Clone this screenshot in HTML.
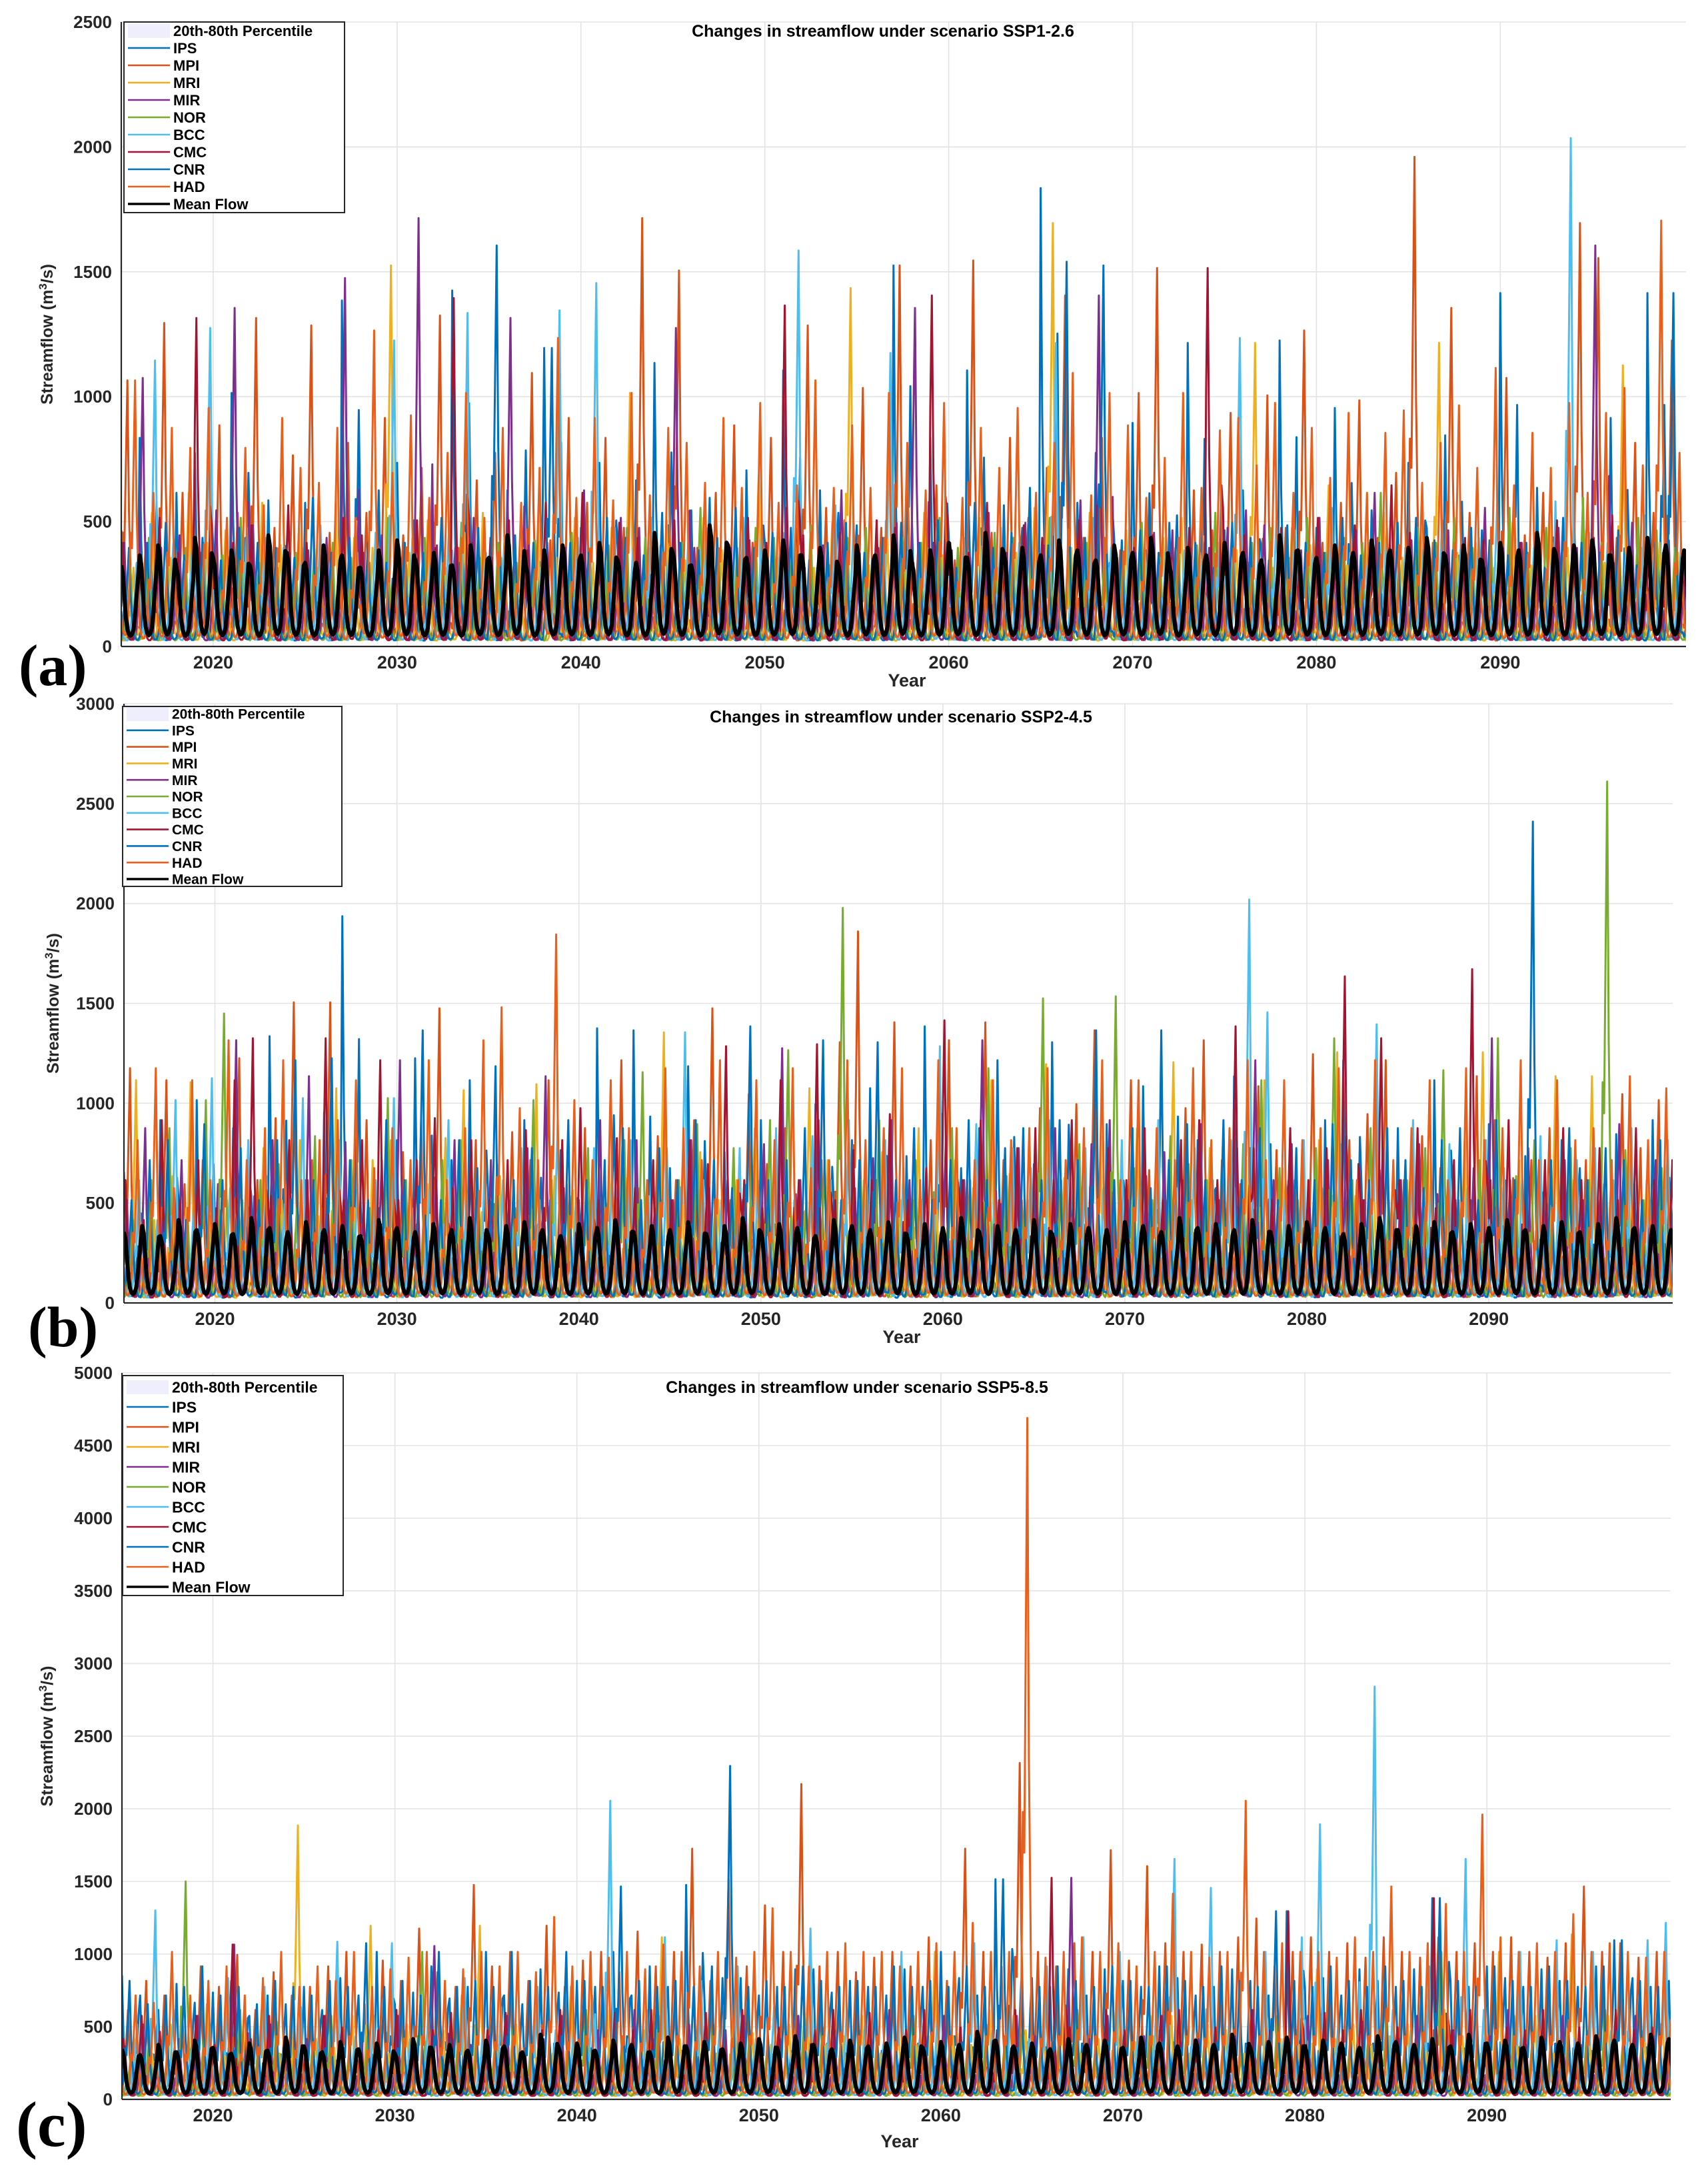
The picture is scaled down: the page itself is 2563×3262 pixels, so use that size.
<!DOCTYPE html>
<html><head><meta charset="utf-8"><style>
html,body{margin:0;padding:0;background:#fff;}
svg{display:block;}
text{font-family:"Liberation Sans",Arial,sans-serif;}
</style></head><body>
<svg id="fig" xmlns="http://www.w3.org/2000/svg" width="2563" height="3262" viewBox="0 0 2563 3262">
<rect x="0" y="0" width="2563" height="3262" fill="#fff"/>
</svg>
<script>
// ---------- shared data ----------
const modelNames = ["IPS","MPI","MRI","MIR","NOR","BCC","CMC","CNR","HAD"];
const modelColors = ["#0072BD","#D95319","#EDB120","#7E2F8E","#77AC30","#4DBEEE","#A2142F","#0072BD","#E8601C"];
const peakMonth = [0,4,8,2,6,10,1,5,9];
const seasonProfile = [1,0.5,0.28,0.12,0.05,0.03,0.03,0.06,0.15,0.42,0.36,0.68];
const meanProfile = [1,0.9,0.6,0.3,0.15,0.08,0.06,0.08,0.15,0.35,0.6,0.85];
const startYear = 2015;
const xTickYears = [2020,2030,2040,2050,2060,2070,2080,2090];

// ---------- panel (a) SSP1-2.6 annual peak flows ----------
const ipsA=[450,820,340,600,760,380,1000,420,570,300,560,330,1370,440,610,720,290,480,1410,500,340,610,770,1180,330,460,720,390,650,1120,380,530,580,300,690,400,1090,340,610,520,470,330,1510,500,820,430,1090,340,550,460,1820,370,560,760,420,880,360,480,1200,370,450,610,390,1210,320,460,940,360,530,390,720,460,830,300,450,1400,350,620,360,570,430,900,380,1400,500,360];
const mpiA=[1050,400,1280,600,360,870,520,1300,460,750,1270,440,800,520,900,430,700,1310,380,650,760,300,1080,410,900,560,820,460,1700,390,1490,380,600,870,400,820,310,1270,540,490,1020,460,1510,370,630,330,1530,440,820,500,700,1390,420,820,370,1000,1500,380,610,450,920,320,990,460,1250,400,560,970,420,680,1945,400,1340,520,300,1060,430,600,360,1680,1540,420,800,520,1210,400];
const mriA=[300,520,340,600,400,450,320,560,390,460,300,560,420,380,1510,360,490,300,440,520,340,380,470,340,500,320,460,1000,380,490,330,500,370,350,670,340,400,300,480,1420,310,430,290,520,350,410,500,300,360,540,1680,380,520,300,450,380,420,500,360,400,370,1200,300,460,390,630,310,400,520,340,430,1200,360,400,300,480,310,520,380,450,320,1110,380,400,360,340];
const mirA=[400,1060,380,430,320,530,1340,470,300,360,370,420,1460,360,430,340,1700,390,380,500,340,1300,390,400,380,610,360,500,460,320,1260,380,370,380,410,330,540,300,390,610,360,380,480,1340,400,370,340,520,360,480,390,330,570,1390,340,360,440,450,380,380,460,530,470,300,370,500,320,450,600,370,410,310,450,340,540,380,400,300,460,380,1590,320,480,300,410,370];
const norA=[300,420,310,380,400,350,500,320,300,360,380,400,340,320,500,310,420,340,480,340,400,320,410,300,440,360,390,460,420,320,400,540,360,380,460,420,390,470,310,420,460,340,420,400,500,380,310,440,420,360,500,360,400,420,350,480,340,410,390,520,380,400,460,340,500,360,420,400,600,340,460,400,500,380,420,540,360,460,420,580,400,360,500,450,380,400];
const bccA=[320,1130,400,360,1260,300,460,420,380,380,470,300,360,440,1210,420,340,480,1320,360,400,380,300,1330,420,1440,460,380,500,370,400,460,360,500,460,400,1570,300,550,480,340,1160,420,380,510,420,380,460,400,360,1200,340,500,380,460,350,420,370,400,620,1220,340,510,450,400,540,360,400,460,380,410,490,370,420,560,300,380,400,2020,440,400,360,510,360,400,380];
const cmcA=[400,340,500,360,1300,320,400,470,320,550,400,380,500,430,340,360,490,380,1380,400,420,490,370,560,340,600,360,480,420,380,490,300,400,370,500,400,1350,430,300,440,350,490,460,320,1390,400,360,560,360,470,420,380,490,550,320,380,430,340,460,1500,400,430,310,460,340,500,380,470,300,630,440,370,350,420,410,380,400,340,490,360,420,510,360,400,380,340];
const cnrA=[380,400,480,350,420,330,460,400,380,340,580,360,420,400,320,400,360,500,320,460,1590,430,400,1180,400,360,500,420,350,520,400,370,420,540,380,440,460,330,400,480,360,420,480,400,490,300,560,380,440,620,390,1525,420,1510,410,450,360,510,400,300,480,420,330,470,400,360,500,350,400,480,500,410,370,460,410,350,400,300,500,400,360,450,310,400,1400,400];
const hadA=[1050,600,860,780,940,500,780,550,900,700,640,860,500,1250,680,910,580,760,1000,500,860,560,700,1220,580,900,570,1000,590,860,800,640,900,620,960,560,630,1050,620,870,620,1000,800,610,960,580,860,700,940,600,800,1080,590,1000,870,580,740,1000,620,850,900,710,960,600,860,660,920,600,840,930,640,800,950,700,1100,630,840,700,960,600,920,1020,710,1690,760,810];
const meanA=[300,340,380,290,410,330,360,300,420,350,310,380,340,290,360,400,320,350,300,380,330,420,300,360,380,340,390,320,310,430,350,300,460,380,330,360,400,340,370,300,380,340,420,310,360,390,330,430,350,370,340,400,360,320,380,350,410,300,370,340,390,350,320,420,360,330,380,350,400,360,370,410,340,380,320,390,360,430,350,380,400,340,370,410,380,360];

// ---------- panel (b) SSP2-4.5 ----------
const ipsB=[640,420,900,500,1000,380,860,520,1320,400,600,940,1921,500,460,800,1210,380,700,1100,560,480,900,420,750,500,1360,600,1350,380,660,1170,500,740,420,900,600,460,980,500,800,1060,380,720,1370,500,660,860,1200,480,680,1290,600,460,880,520,1070,1350,400,800,560,1120,500,780,600,440,900,1200,580,650,860,460,1100,600,500,880,400,720,540,800,660,500,830,580,900,460];
const mpiB=[1160,500,1100,580,700,450,1210,600,910,1490,700,1490,480,900,560,740,900,1460,500,800,480,840,700,1100,580,860,500,1200,560,820,600,900,1460,500,1030,680,860,440,700,1290,1845,600,1390,500,800,1300,600,1390,700,500,960,610,980,1350,560,1100,650,500,960,1300,700,580,1070,750,600,1230,560,800,930,1200,600,820,660,500,1120,900,610,700,860,520,700,580,1030,760,1000,600];
const mriB=[1100,400,620,1090,460,500,380,760,500,800,420,1060,460,700,800,480,580,810,1050,440,620,500,1080,620,550,460,700,610,480,1340,580,740,500,600,860,500,420,1060,700,480,600,740,500,860,480,700,560,1100,630,500,1180,610,460,780,500,860,600,1190,500,760,560,700,1100,660,500,800,1240,520,730,480,600,710,520,800,1240,560,700,460,1120,600,1120,500,760,600,680,500];
const mirB=[500,860,460,700,380,580,1300,520,800,460,1120,500,790,480,700,1200,480,600,800,440,700,500,760,1120,560,480,900,500,800,460,500,800,560,600,460,780,1260,600,900,420,560,710,900,600,440,820,600,1300,480,760,600,860,460,780,900,500,620,740,600,880,500,760,1200,600,780,460,700,820,500,760,600,780,530,500,660,1310,600,760,480,700,500,600,880,460,700,520];
const norB=[400,600,860,440,1000,1434,500,600,680,460,820,500,700,460,1010,600,480,700,800,500,680,460,1000,600,520,760,480,800,1140,500,600,880,500,760,680,900,1250,500,700,1963,600,900,460,700,540,860,600,1160,620,500,1510,600,780,460,1520,660,500,820,680,600,460,780,1100,660,500,760,1310,600,860,500,600,760,1150,500,700,1310,620,800,460,760,600,2596,750,500,660,600];
const bccB=[600,400,1000,460,1110,560,800,620,480,1010,460,800,580,600,1010,460,680,900,540,700,600,760,500,900,480,760,640,800,520,760,1340,600,500,760,600,860,500,820,600,900,560,800,660,500,1270,600,880,500,760,660,900,600,760,560,800,600,900,560,760,600,800,2005,1440,600,800,560,780,600,1380,500,900,600,780,560,800,660,600,820,500,700,760,600,860,500,800,580];
const cmcB=[600,400,900,500,700,460,1100,1310,520,800,600,1310,500,800,1200,500,700,910,560,800,500,700,850,460,800,960,500,810,560,700,500,800,680,1270,600,460,1100,600,1280,500,750,600,930,500,660,1400,600,900,500,760,860,600,900,500,760,600,860,500,800,900,600,1370,760,500,860,600,760,1620,500,1310,600,860,460,700,1656,600,900,560,700,860,600,760,500,860,600,700];
const cnrB=[500,700,800,400,880,600,760,500,800,1200,600,1210,700,500,900,600,1350,500,800,660,1170,600,760,500,900,600,700,860,500,760,600,900,700,560,1370,600,700,860,1300,500,700,1290,600,860,500,700,900,600,760,860,600,900,700,1350,600,860,560,700,880,600,900,600,860,500,760,600,880,700,600,860,700,560,800,860,500,900,600,2395,700,860,600,760,700,500,800,600];
const hadB=[800,1160,560,1100,600,1300,700,860,1200,600,800,900,1100,660,860,700,1200,600,860,1300,1465,960,700,1830,1000,700,1100,860,600,1160,860,700,1200,600,1100,800,1160,660,700,1200,800,860,1160,600,1200,860,700,1100,800,860,1160,700,860,1200,600,1100,860,700,1160,800,860,1200,700,1100,800,860,1160,600,1200,700,860,1100,600,1160,800,860,1200,700,1100,800,860,700,1120,800,1060,700];
const meanB=[330,360,310,390,340,370,320,400,350,330,380,340,360,310,390,350,330,370,340,400,320,360,380,340,310,370,350,390,330,360,340,380,320,360,400,330,370,350,310,390,360,340,380,320,370,350,400,330,360,340,390,320,370,350,340,380,360,330,400,350,370,340,390,330,360,380,350,320,370,400,340,360,380,330,370,350,390,340,360,380,330,370,400,350,360,340];

// ---------- panel (c) SSP5-8.5 ----------
const ipsC=[840,700,600,780,650,720,800,560,700,640,760,600,820,700,1000,640,720,900,680,760,1000,700,640,880,720,800,760,1000,700,900,760,1460,700,820,820,700,760,880,880,720,800,760,700,880,760,1000,820,700,1500,900,820,760,880,700,880,800,760,900,820,700,760,880,800,700,1280,760,820,700,880,800,760,880,1370,800,760,900,820,760,880,800,760,900,1080,820,760,800];
const mpiC=[600,800,700,520,900,760,980,600,860,700,760,900,1000,640,940,800,1160,860,760,1460,900,1000,800,1180,760,940,1000,860,1140,900,1000,1710,800,1500,900,1320,1000,2155,900,1000,860,960,1000,900,1100,800,1710,1000,900,2300,1000,900,1060,1000,1700,940,1590,1060,1000,1050,1000,1100,1230,900,1000,1100,1000,1060,960,1100,1000,960,1100,1000,1060,1000,1100,1000,960,1060,1450,1000,1060,960,1000,1260];
const mriC=[400,300,500,360,640,300,460,600,300,1870,400,340,560,1180,300,500,380,460,700,1180,360,500,420,300,760,400,600,300,460,1100,400,560,300,700,440,360,500,600,360,420,560,300,500,360,1000,420,360,600,300,460,420,560,300,400,760,380,420,560,300,500,460,300,620,400,360,880,400,500,360,420,500,360,600,420,300,1000,400,560,300,1120,400,560,300,420,560,300];
const mirC=[350,500,300,400,560,340,1050,300,500,360,400,560,340,420,300,560,360,1040,400,360,420,560,300,400,560,300,460,360,600,400,360,500,300,460,560,320,400,560,300,460,360,400,600,360,420,560,360,400,300,560,420,360,1510,400,560,300,420,560,380,400,360,420,600,360,400,560,360,300,520,360,400,560,300,460,360,420,600,360,400,560,360,400,300,560,420,360];
const norC=[300,440,300,1485,400,300,600,360,520,340,400,560,340,420,300,460,1000,300,460,420,360,500,420,360,300,600,360,420,300,560,420,360,500,300,460,420,300,560,480,360,460,420,300,560,400,360,420,500,360,480,360,420,600,360,300,420,560,300,460,420,360,300,420,560,400,360,300,420,460,600,360,420,1000,360,300,420,560,400,360,420,460,600,420,360,300,420];
const bccC=[500,1285,600,360,500,820,400,760,300,620,460,1070,420,560,1060,400,560,300,820,460,620,300,760,460,500,700,2040,400,600,1100,300,800,460,900,400,620,300,1160,460,600,500,360,1000,400,620,300,1060,460,600,400,900,460,1100,300,1000,480,600,1640,460,1440,500,360,1000,400,1100,1878,500,300,2826,600,460,900,400,1640,600,360,1000,500,1080,400,1000,460,600,1080,1200,460];
const cmcC=[400,560,450,300,560,360,1050,400,560,380,300,560,480,300,460,600,300,460,580,300,460,580,300,460,600,360,300,580,460,600,360,300,580,460,600,360,480,300,460,600,360,580,300,460,600,360,480,300,460,600,360,1510,480,360,600,460,380,560,600,360,480,360,600,460,1280,360,580,460,600,360,480,360,1370,460,600,360,480,460,600,360,480,360,600,460,480,360];
const cnrC=[800,640,700,760,900,700,760,640,800,760,700,800,760,1060,760,800,700,1000,760,800,760,1000,800,760,1000,800,760,1450,800,760,800,760,900,2280,760,800,760,900,800,760,800,760,900,760,800,760,900,760,1500,800,760,900,800,760,900,800,760,900,800,760,900,800,760,1280,800,760,900,800,760,900,800,760,1370,800,760,900,800,760,900,800,760,900,1080,800,760,900];
const hadC=[700,650,1000,700,800,900,700,820,1000,760,900,800,1000,760,880,960,1000,800,880,1000,900,1000,860,1240,900,1000,960,1000,880,1050,1000,900,1000,960,1000,1300,1000,900,1000,1060,1000,1000,900,1000,1060,1000,1200,1000,1000,4675,960,1000,1100,1000,1060,900,1000,1400,1000,960,1000,2040,1000,1060,1000,1000,960,1100,1000,1450,1000,1060,1330,1000,1945,1100,1000,1060,1000,1260,1000,1060,1000,960,1000,1260];
const meanC=[320,280,350,300,380,330,290,360,310,400,340,300,370,320,360,290,390,330,350,310,380,340,300,420,330,360,310,380,350,300,400,340,370,320,360,390,330,410,350,320,380,340,360,400,330,370,350,440,380,340,360,320,390,350,380,330,400,360,340,380,350,420,330,370,400,340,380,360,330,410,370,350,390,340,420,360,380,330,400,370,360,410,380,350,420,390];

const panels = [
 {id:"a", L:182,R:2530,T:33,B:970, xMax:2100.1, yMax:2500, title:"Changes in streamflow under scenario SSP1-2.6", titleX:1325, titleY:55,
  series:[ipsA,mpiA,mriA,mirA,norA,bccA,cmcA,cnrA,hadA], mean:meanA,
  leg:{x:186,y:33,w:331,h:286,row0:46,step:26,fs:22}, tag:{x:28,y:1028,fs:88}, yearY:1030, ylabX:79},
 {id:"b", L:186,R:2510,T:1056,B:1955, xMax:2100.1, yMax:3000, title:"Changes in streamflow under scenario SSP2-4.5", titleX:1352, titleY:1084,
  series:[ipsB,mpiB,mriB,mirB,norB,bccB,cmcB,cnrB,hadB], mean:meanB,
  leg:{x:184,y:1060,w:329,h:270,row0:1071,step:24.8,fs:21}, tag:{x:42,y:2020,fs:86}, yearY:2015, ylabX:88},
 {id:"c", L:183,R:2507,T:2060,B:3150, xMax:2100.1, yMax:5000, title:"Changes in streamflow under scenario SSP5-8.5", titleX:1286, titleY:2090,
  series:[ipsC,mpiC,mriC,mirC,norC,bccC,cmcC,cnrC,hadC], mean:meanC,
  leg:{x:184,y:2064,w:331,h:330,row0:2081,step:30,fs:23}, tag:{x:24,y:3220,fs:96}, yearY:3222, ylabX:79}
];

const NS="http://www.w3.org/2000/svg";
const svg=document.getElementById("fig");
function mk(tag,attrs,parent){const e=document.createElementNS(NS,tag);for(const k in attrs)e.setAttribute(k,attrs[k]);(parent||svg).appendChild(e);return e;}

panels.forEach(p=>{
  const g=mk("g",{});
  
  
  const xs=v=>p.L+(v-startYear)/(p.xMax-startYear)*(p.R-p.L);
  const ys=v=>p.B-v/p.yMax*(p.B-p.T);
  const grid=mk("g",{stroke:"#e3e3e3","stroke-width":"1.6"},g);
  
  
  xTickYears.forEach(yr=>mk("line",{x1:xs(yr),x2:xs(yr),y1:p.T,y2:p.B},grid));
  const yTicks=[];for(let v=0;v<=p.yMax;v+=500)yTicks.push(v);
  yTicks.forEach(v=>{if(v>0)mk("line",{x1:p.L,x2:p.R,y1:ys(v),y2:ys(v)},grid);});
  const cp=mk("clipPath",{id:"clip"+p.id},g);
  mk("rect",{x:p.L,y:p.T-2,width:p.R-p.L,height:p.B-p.T+2},cp);
  const plot=mk("g",{"clip-path":"url(#clip"+p.id+")"},g);
  
  
  p.series.forEach((arr,k)=>{
    let pts=[];
    const off=peakMonth[k];
    for(let i=0;i<arr.length;i++){
      for(let m=0;m<12;m++){
        const t=startYear+i+m/12;
        const f=seasonProfile[((m-off)%12+12)%12];
        const v=15+arr[i]*f;
        pts.push(xs(t).toFixed(1)+","+ys(v).toFixed(1));
      }
    }
    const pl=mk("polyline",{points:pts.join(" "),fill:"none",stroke:modelColors[k],"stroke-width":"3","stroke-linejoin":"round"},plot);
    
    
  });
  let mp=[];
  p.mean.forEach((pk,i)=>{for(let m=0;m<12;m++){const t=startYear+i+m/12;const v=25+pk*meanProfile[m];mp.push(xs(t).toFixed(1)+","+ys(v).toFixed(1));}});
  const ml=mk("polyline",{points:mp.join(" "),fill:"none",stroke:"#000","stroke-width":"6","stroke-linejoin":"round"},plot);
  
  
  const ax=mk("g",{stroke:"#262626","stroke-width":"2.2",fill:"none"},g);
  
  
  mk("line",{x1:p.L,x2:p.L,y1:p.T,y2:p.B},ax);
  mk("line",{x1:p.L,x2:p.R,y1:p.B,y2:p.B},ax);
  const yl=mk("g",{"font-size":"26","font-weight":"bold",fill:"#262626","text-anchor":"end"},g);
  
  
  yTicks.forEach(v=>{const t=mk("text",{x:p.L-14,y:ys(v)+9},yl);t.textContent=String(v);});
  const xl=mk("g",{"font-size":"27","font-weight":"bold",fill:"#262626","text-anchor":"middle"},g);
  
  
  xTickYears.forEach(yr=>{const t=mk("text",{x:xs(yr),y:p.B+33},xl);t.textContent=String(yr);});
  const xt=mk("text",{x:(p.L+p.R)/2+5,y:p.yearY,"font-size":"27","font-weight":"bold",fill:"#262626","text-anchor":"middle"},g);
  xt.textContent="Year";
  
  
  const cy=(p.T+p.B)/2;
  const yt=mk("text",{x:p.ylabX,y:cy,"font-size":"25","font-weight":"bold",fill:"#262626","text-anchor":"middle",transform:"rotate(-90 "+p.ylabX+" "+cy+")"},g);
  yt.innerHTML='Streamflow (m<tspan baseline-shift="super" font-size="17">3</tspan>/s)';
  
  
  const tt=mk("text",{x:p.titleX,y:p.titleY,"font-size":"25","font-weight":"bold",fill:"#000","text-anchor":"middle"},g);
  tt.textContent=p.title;
  
  
  const lg=mk("g",{},g);
  
  
  const L=p.leg;
  mk("rect",{x:L.x,y:L.y,width:L.w,height:L.h,fill:"#fff",stroke:"#262626","stroke-width":"2"},lg);
  const labels=["20th-80th Percentile"].concat(modelNames,["Mean Flow"]);
  labels.forEach((lab,i)=>{
    const yy=L.row0+i*L.step;
    const e=mk("g",{},lg);
    
    
    if(i===0){mk("rect",{x:L.x+6,y:yy-10,width:63,height:21,fill:"#EEEEFC"},e);}
    else{const c=i<=9?modelColors[i-1]:"#000";mk("line",{x1:L.x+6,x2:L.x+69,y1:yy,y2:yy,stroke:c,"stroke-width":i===10?"3.5":"2.6"},e);}
    const t=mk("text",{x:L.x+74,y:yy+L.fs*0.36,"font-size":L.fs,"font-weight":"bold",fill:"#000"},e);
    t.textContent=lab;
  });
  const tg=mk("text",{x:p.tag.x,y:p.tag.y,"font-size":p.tag.fs,"font-weight":"bold",fill:"#000",style:"font-family:'Liberation Serif',serif"},g);
  tg.textContent="("+p.id+")";
  
  
});
</script>
</body></html>
